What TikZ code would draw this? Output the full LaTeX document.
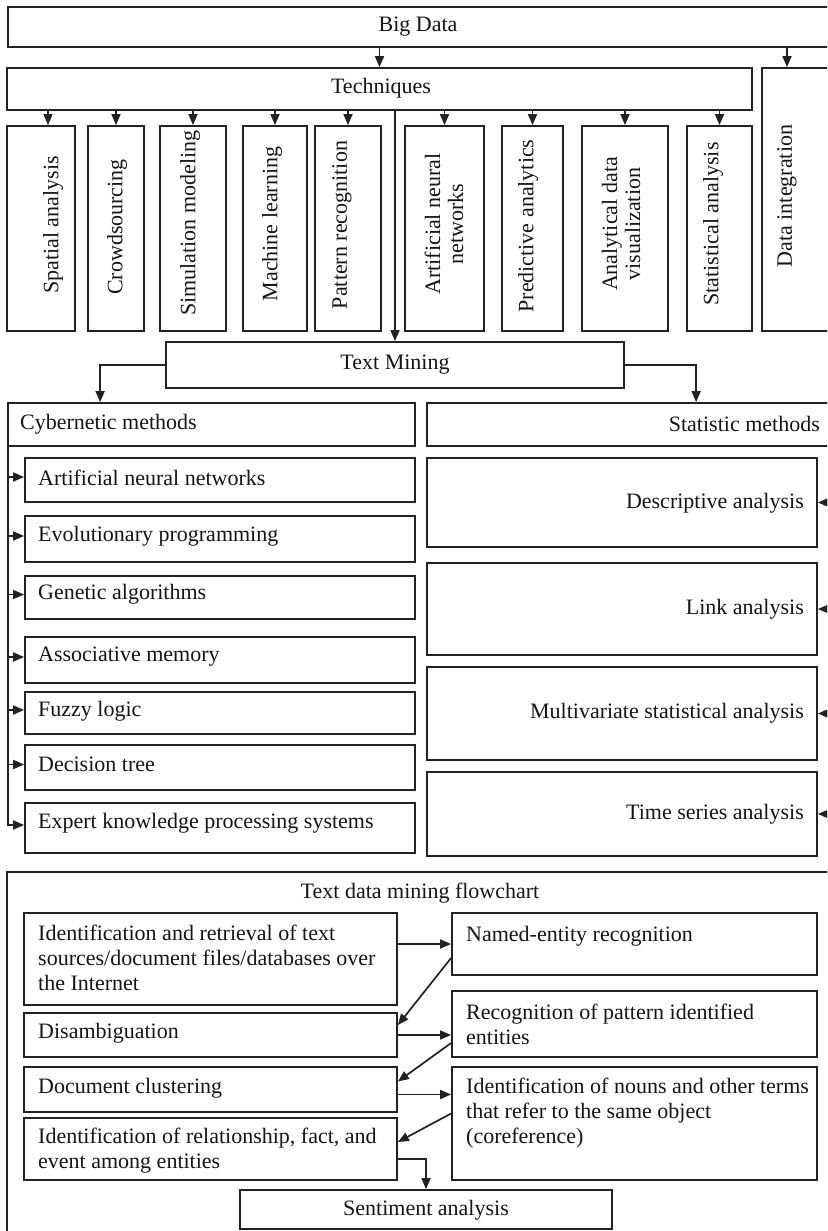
\documentclass[tikz,border=0pt]{standalone}
\usepackage{fontspec}
\setmainfont{Liberation Serif}
\usetikzlibrary{arrows.meta,fit,calc}
\definecolor{lc}{HTML}{222222}
\definecolor{tc}{HTML}{151515}
\newcommand{\rbox}[5]{\node[box, fit={(#2,#3) (#4,#5)}] (#1) {};}
\begin{document}
\begin{tikzpicture}[x=1pt,y=-1pt,
  box/.style={draw=lc, line width=1.8pt, inner sep=0pt, rectangle},
  lbl/.style={inner sep=0pt, font=\fontsize{22}{24}\selectfont, text=tc},
  rlbl/.style={lbl, rotate=90, align=center, font=\fontsize{22}{23}\selectfont},
  blbl/.style={lbl, align=left, font=\fontsize{22}{25}\selectfont},
  arr/.style={draw=lc, line width=1.7pt, arrows={-Triangle[length=11pt,width=9pt]}},
  ln/.style={draw=lc, line width=1.7pt}]
\useasboundingbox (0,0) rectangle (827,1231);
\clip (0,0) rectangle (827,1231);
\fill[white] (0,0) rectangle (827,1231);

% ---- top part
\rbox{bd}{8}{7}{840}{47}
\rbox{tech}{7}{68}{752}{110}
\rbox{di}{762}{68}{840}{331}
\rbox{sp}{7}{126}{75}{331}
\rbox{cr}{88}{126}{144}{331}
\rbox{sim}{160}{126}{226}{331}
\rbox{ml}{243}{126}{307}{331}
\rbox{pr}{315}{126}{381}{331}
\rbox{ann}{405}{126}{484}{331}
\rbox{pa}{502}{126}{563}{331}
\rbox{adv}{582}{126}{668}{331}
\rbox{st}{687}{126}{752}{331}
\rbox{tm}{166}{342}{624}{388}

\node[lbl] (bd-t) at (418,27) {Big Data};
\node[lbl] (tech-t) at (381,88) {Techniques};
\node[rlbl] (sp-t) at (53,225) {Spatial analysis};
\node[rlbl] (cr-t) at (117,227) {Crowdsourcing};
\node[rlbl] (sim-t) at (190,223) {Simulation modeling};
\node[rlbl] (ml-t) at (272,224) {Machine learning};
\node[rlbl] (pr-t) at (342,225) {Pattern recognition};
\node[rlbl] (ann-t) at (444,224) {Artificial neural\\networks};
\node[rlbl] (pa-t) at (528,226) {Predictive analytics};
\node[rlbl] (adv-t) at (621,224) {Analytical data\\visualization};
\node[rlbl] (st-t) at (713,224) {Statistical analysis};
\node[rlbl] (di-t) at (787,196) {Data integration};
\node[lbl] (tm-t) at (395,365) {Text Mining};

\draw[arr] (bd.south -| tech.north) -- (tech.north);
\draw[arr] (bd.south -| di-t) -- (di-t |- di.north);
\coordinate (spin) at ([xshift=7pt]sp.north);
\draw[arr] (tech.south -| spin) -- (spin);
\foreach \b in {cr,sim,ml,pr,ann,pa,adv,st}{
  \draw[arr] (tech.south -| \b.north) -- (\b.north);
}
\draw[arr] (tech.south -| tm.north) -- (tm.north);

% ---- middle part
\rbox{cyb}{8}{403}{415}{446}
\rbox{stat}{427}{403}{840}{446}
\rbox{c1}{25}{458}{415}{502}
\rbox{c2}{25}{516}{415}{562}
\rbox{c3}{25}{576}{415}{619}
\rbox{c4}{25}{637}{415}{683}
\rbox{c5}{25}{692}{415}{734}
\rbox{c6}{25}{745}{415}{790}
\rbox{c7}{25}{803}{415}{853}
\rbox{s1}{427}{458}{817}{547}
\rbox{s2}{427}{563}{817}{655}
\rbox{s3}{427}{667}{817}{760}
\rbox{s4}{427}{772}{817}{856}

\node[lbl,anchor=west] (cyb-t) at (20,424) {Cybernetic methods};
\node[lbl,anchor=east] (stat-t) at (820,424) {Statistic methods};
\node[lbl,anchor=west] (c1-t) at (38,478) {Artificial neural networks};
\node[lbl,anchor=west] (c2-t) at (38,536) {Evolutionary programming};
\node[lbl,anchor=west] (c3-t) at (38,594) {Genetic algorithms};
\node[lbl,anchor=west] (c4-t) at (38,657) {Associative memory};
\node[lbl,anchor=west] (c5-t) at (38,711) {Fuzzy logic};
\node[lbl,anchor=west] (c6-t) at (38,764) {Decision tree};
\node[lbl,anchor=west] (c7-t) at (38,823) {Expert knowledge processing systems};
\node[lbl,anchor=east] (s1-t) at (804,503) {Descriptive analysis};
\node[lbl,anchor=east] (s2-t) at (804,609) {Link analysis};
\node[lbl,anchor=east] (s3-t) at (804,713) {Multivariate statistical analysis};
\node[lbl,anchor=east] (s4-t) at (804,814) {Time series analysis};

\coordinate (cybin) at ([xshift=93pt]cyb.north west);
\coordinate (statin) at ([xshift=270pt]stat.north west);
\draw[arr] (tm.west) -| (cybin);
\draw[arr] (tm.east) -| (statin);

\coordinate (trunk) at ([xshift=1pt]cyb.south west);
\foreach \b in {c1,c2,c3,c4,c5,c6,c7}{
  \coordinate (\b in) at ([yshift=3pt]\b.west);
}
\draw[arr] (trunk) |- (c7in);
\foreach \b in {c1,c2,c3,c4,c5,c6}{
  \draw[arr] (trunk |- \b in) -- (\b in);
}
\foreach \b in {s1,s2,s3,s4}{
  \coordinate (\b src) at ([xshift=20pt]\b.east);
  \draw[arr] (\b src) -- (\b.east);
}

% ---- bottom flowchart
\rbox{fc}{7}{872}{840}{1260}
\rbox{f1}{24}{913}{397}{1005}
\rbox{f2}{24}{1013}{397}{1057}
\rbox{f3}{24}{1067}{397}{1112}
\rbox{f4}{24}{1118}{397}{1180}
\rbox{g1}{452}{913}{817}{975}
\rbox{g2}{452}{991}{817}{1057}
\rbox{g3}{452}{1067}{817}{1180}
\rbox{sa}{240}{1190}{612}{1229}

\node[lbl] (fc-t) at (420,893) {Text data mining flowchart};
\node[blbl,anchor=west] (f1-t) at (38,958) {Identification and retrieval of text\\sources/document files/databases over\\the Internet};
\node[blbl,anchor=west] (f2-t) at (38,1033) {Disambiguation};
\node[blbl,anchor=west] (f3-t) at (38,1088) {Document clustering};
\node[blbl,anchor=west] (f4-t) at (38,1151) {Identification of relationship, fact, and\\event among entities};
\node[blbl,anchor=west] (g1-t) at (466,936) {Named-entity recognition};
\node[blbl,anchor=west] (g2-t) at (466,1024) {Recognition of pattern identified\\entities};
\node[blbl,anchor=west] (g3-t) at (466,1113) {Identification of nouns and other terms\\that refer to the same object\\(coreference)};
\node[lbl] (sa-t) at (426,1210) {Sentiment analysis};

\draw[arr] (g1.west -| f1.east) -- (g1.west);
\draw[arr] ([yshift=-14pt]g1.west) -- ([yshift=10pt]f2.east);
\draw[arr] (f2.east) -- (f2.east -| g2.west);
\draw[arr] ([yshift=-19pt]g2.west) -- ([yshift=8pt]f3.east);
\coordinate (f3out) at ([yshift=-5pt]f3.east);
\draw[arr] (f3out) -- (f3out -| g3.west);
\draw[arr] ([yshift=10pt]g3.west) -- ([yshift=7pt]f4.east);
\draw[arr] ([yshift=-10pt]f4.east) -| (sa.north);
\end{tikzpicture}
\end{document}
